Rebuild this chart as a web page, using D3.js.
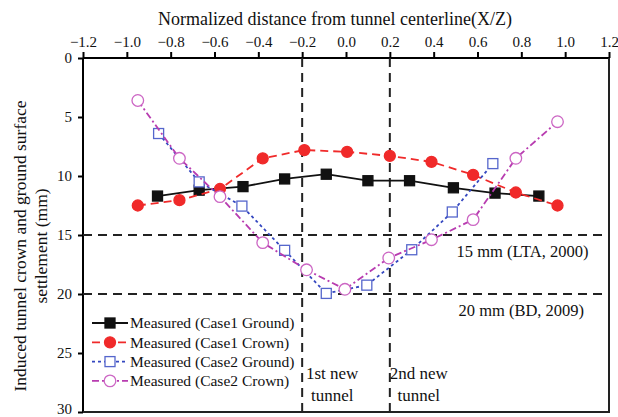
<!DOCTYPE html>
<html>
<head>
<meta charset="utf-8">
<script src="https://cdn.jsdelivr.net/npm/d3@7"></script>
<style>
  body { margin: 0; background: #fff; }
  svg text { font-family: "Liberation Serif", "DejaVu Serif", serif !important; fill: #111; }
</style>
</head>
<body>
<div id="chart"></div>
<script>
// data
const xTicks = [-1.2, -1.0, -0.8, -0.6, -0.4, -0.2, 0.0, 0.2, 0.4, 0.6, 0.8, 1.0, 1.2];
const yTicks = [0, 5, 10, 15, 20, 25, 30];

const case1GroundX = [-0.86, -0.67, -0.47, -0.28, -0.09, 0.10, 0.29, 0.49, 0.68, 0.88];
const case1GroundY = [11.7, 11.2, 10.9, 10.25, 9.85, 10.4, 10.4, 11.0, 11.45, 11.7];

const case1CrownX = [-0.95, -0.76, -0.575, -0.38, -0.19, 0.005, 0.20, 0.39, 0.58, 0.775, 0.965];
const case1CrownY = [12.5, 12.05, 11.1, 8.5, 7.8, 7.95, 8.3, 8.8, 9.9, 11.4, 12.5];

const case2GroundX = [-0.855, -0.67, -0.475, -0.28, -0.09, 0.095, 0.30, 0.485, 0.67];
const case2GroundY = [6.4, 10.5, 12.55, 16.3, 19.95, 19.25, 16.25, 13.05, 8.95];

const case2CrownX = [-0.95, -0.76, -0.575, -0.38, -0.18, -0.005, 0.195, 0.39, 0.58, 0.775, 0.965];
const case2CrownY = [3.6, 8.5, 11.75, 15.65, 17.95, 19.6, 16.95, 15.4, 13.7, 8.5, 5.4];

const seriesNames = ["Measured (Case1 Ground)", "Measured (Case1 Crown)", "Measured (Case2 Ground)", "Measured (Case2 Crown)"];
const limitValues = [15, 20];
const limitLabels = ["15 mm (LTA, 2000)", "20 mm (BD, 2009)"];
const tunnelEdges = [-0.2, 0.2];
const tunnelLabels = [["1st new", "tunnel"], ["2nd new", "tunnel"]];

// set the dimensions and margins of the graph
const margin = { top: 58, right: 9, bottom: 5, left: 83 },
    width = 618 - margin.left - margin.right,
    height = 417 - margin.top - margin.bottom;

const svgRoot = d3.select("#chart")
    .append("svg")
    .attr("width", 618)
    .attr("height", 417);

const svg = svgRoot.append("g")
    .attr("transform", `translate(${margin.left}, ${margin.top})`);

const x = d3.scaleLinear().domain([-1.2, 1.2]).range([0, width]);
const y = d3.scaleLinear().domain([0, 30]).range([0, height]);

// top axis
const xAxis = svg.append("g")
    .call(d3.axisTop(x).tickValues(xTicks).tickFormat(d3.format(".1f")).tickSize(6).tickPadding(5))
xAxis.attr("font-family", null);
xAxis.selectAll("text").style("font-size", "15px");
xAxis.select(".domain").attr("stroke-width", 2).attr("d", `M0,0H${width}`);
xAxis.selectAll(".tick line").attr("stroke-width", 2);

// left axis
const yAxis = svg.append("g")
    .call(d3.axisLeft(y).tickValues(yTicks).tickSize(5).tickPadding(6))
yAxis.attr("font-family", null);
yAxis.selectAll("text").style("font-size", "15px").attr("dy", d => d === 30 ? "0.12em" : "0.3em");
yAxis.select(".domain").attr("stroke-width", 2).attr("d", `M0,0V${height}`);
yAxis.selectAll(".tick line").attr("stroke-width", 2);

// right and bottom frame
svg.append("path")
    .attr("d", `M${width},0V${height}H0`)
    .attr("fill", "none")
    .attr("stroke", "#222")
    .attr("stroke-width", 2);

// axis titles
svgRoot.append("text")
    .attr("x", 335)
    .attr("y", 25)
    .attr("text-anchor", "middle")
    .style("font-size", "18px")
    .text("Normalized distance from tunnel centerline(X/Z)");

const yTitle = svgRoot.append("text")
    .attr("transform", "translate(26, 246) rotate(-90)")
    .attr("text-anchor", "middle")
    .style("font-size", "17.5px");
yTitle.append("tspan").attr("x", 0).attr("dy", 0).text("Induced tunnel crown and ground surface");
yTitle.append("tspan").attr("x", 0).attr("dy", 21).text("settlement (mm)");

// reference lines
svg.selectAll(".vline")
    .data(tunnelEdges)
    .join("line")
    .attr("x1", d => x(d)).attr("x2", d => x(d))
    .attr("y1", 0).attr("y2", height)
    .attr("stroke", "#222").attr("stroke-width", 2)
    .attr("stroke-dasharray", "9,6");

svg.selectAll(".hline")
    .data(limitValues)
    .join("line")
    .attr("x1", 0).attr("x2", width)
    .attr("y1", d => y(d)).attr("y2", d => y(d))
    .attr("stroke", "#222").attr("stroke-width", 2)
    .attr("stroke-dasharray", "9,6");

svg.selectAll(".limitLabel")
    .data(limitValues)
    .join("text")
    .attr("x", (d, i) => x(0.6) - 21 + i * 2)
    .attr("y", d => y(d) + 22)
    .style("font-size", "16.5px")
    .text((d, i) => limitLabels[i]);

// tunnel labels
tunnelLabels.forEach(function(lines, i) {
    const t = svg.append("text")
        .attr("text-anchor", "middle")
        .style("font-size", "17px");
    lines.forEach(function(s, j) {
        t.append("tspan")
            .attr("x", x(tunnelEdges[i]) + (i === 0 ? 30 : 29))
            .attr("y", y(27.2) + j * 22)
            .text(s);
    });
});

// series
const series = [
    { name: seriesNames[0], xs: case1GroundX, ys: case1GroundY, color: "#111", dash: null, shape: "square", fill: true },
    { name: seriesNames[1], xs: case1CrownX, ys: case1CrownY, color: "#f02a2a", dash: "8,5", shape: "circle", fill: true },
    { name: seriesNames[2], xs: case2GroundX, ys: case2GroundY, color: "#3548c0", dash: "3,3", shape: "square", fill: false, mark: "#5566cc" },
    { name: seriesNames[3], xs: case2CrownX, ys: case2CrownY, color: "#b83cb0", dash: "7,3,2,3", shape: "circle", fill: false, mark: "#cc66c4" }
];

const line = d3.line()
    .x(d => x(d[0]))
    .y(d => y(d[1]));

function drawMarker(g, cx, cy, s) {
    const col = s.mark || s.color;
    if (s.shape === "square") {
        g.append("rect")
            .attr("x", cx - 5).attr("y", cy - 5)
            .attr("width", 10).attr("height", 10)
            .attr("fill", s.fill ? col : "#fff")
            .attr("stroke", col).attr("stroke-width", 1.3);
    } else {
        g.append("circle")
            .attr("cx", cx).attr("cy", cy)
            .attr("r", s.fill ? 5.5 : 5.8)
            .attr("fill", s.fill ? col : "#fff")
            .attr("stroke", col).attr("stroke-width", 1.3);
    }
}

series.forEach(function(s) {
    const pts = s.xs.map((v, i) => [v, s.ys[i]]);
    svg.append("path")
        .datum(pts)
        .attr("d", line)
        .attr("fill", "none")
        .attr("stroke", s.color)
        .attr("stroke-width", 1.8)
        .attr("stroke-dasharray", s.dash);
    const g = svg.append("g");
    pts.forEach(p => drawMarker(g, x(p[0]), y(p[1]), s));
});

// legend
const legend = svgRoot.append("g").attr("transform", "translate(92, 323)");
series.forEach(function(s, i) {
    const ly = i * 19.3;
    legend.append("line")
        .attr("x1", 0).attr("x2", 36)
        .attr("y1", ly).attr("y2", ly)
        .attr("stroke", s.color)
        .attr("stroke-width", 1.8)
        .attr("stroke-dasharray", s.dash);
    const g = legend.append("g");
    drawMarker(g, 18, ly, s);
    legend.append("text")
        .attr("x", 38)
        .attr("y", ly)
        .attr("dy", "0.35em")
        .style("font-size", "15.5px")
        .text(s.name);
});
</script>
</body>
</html>
